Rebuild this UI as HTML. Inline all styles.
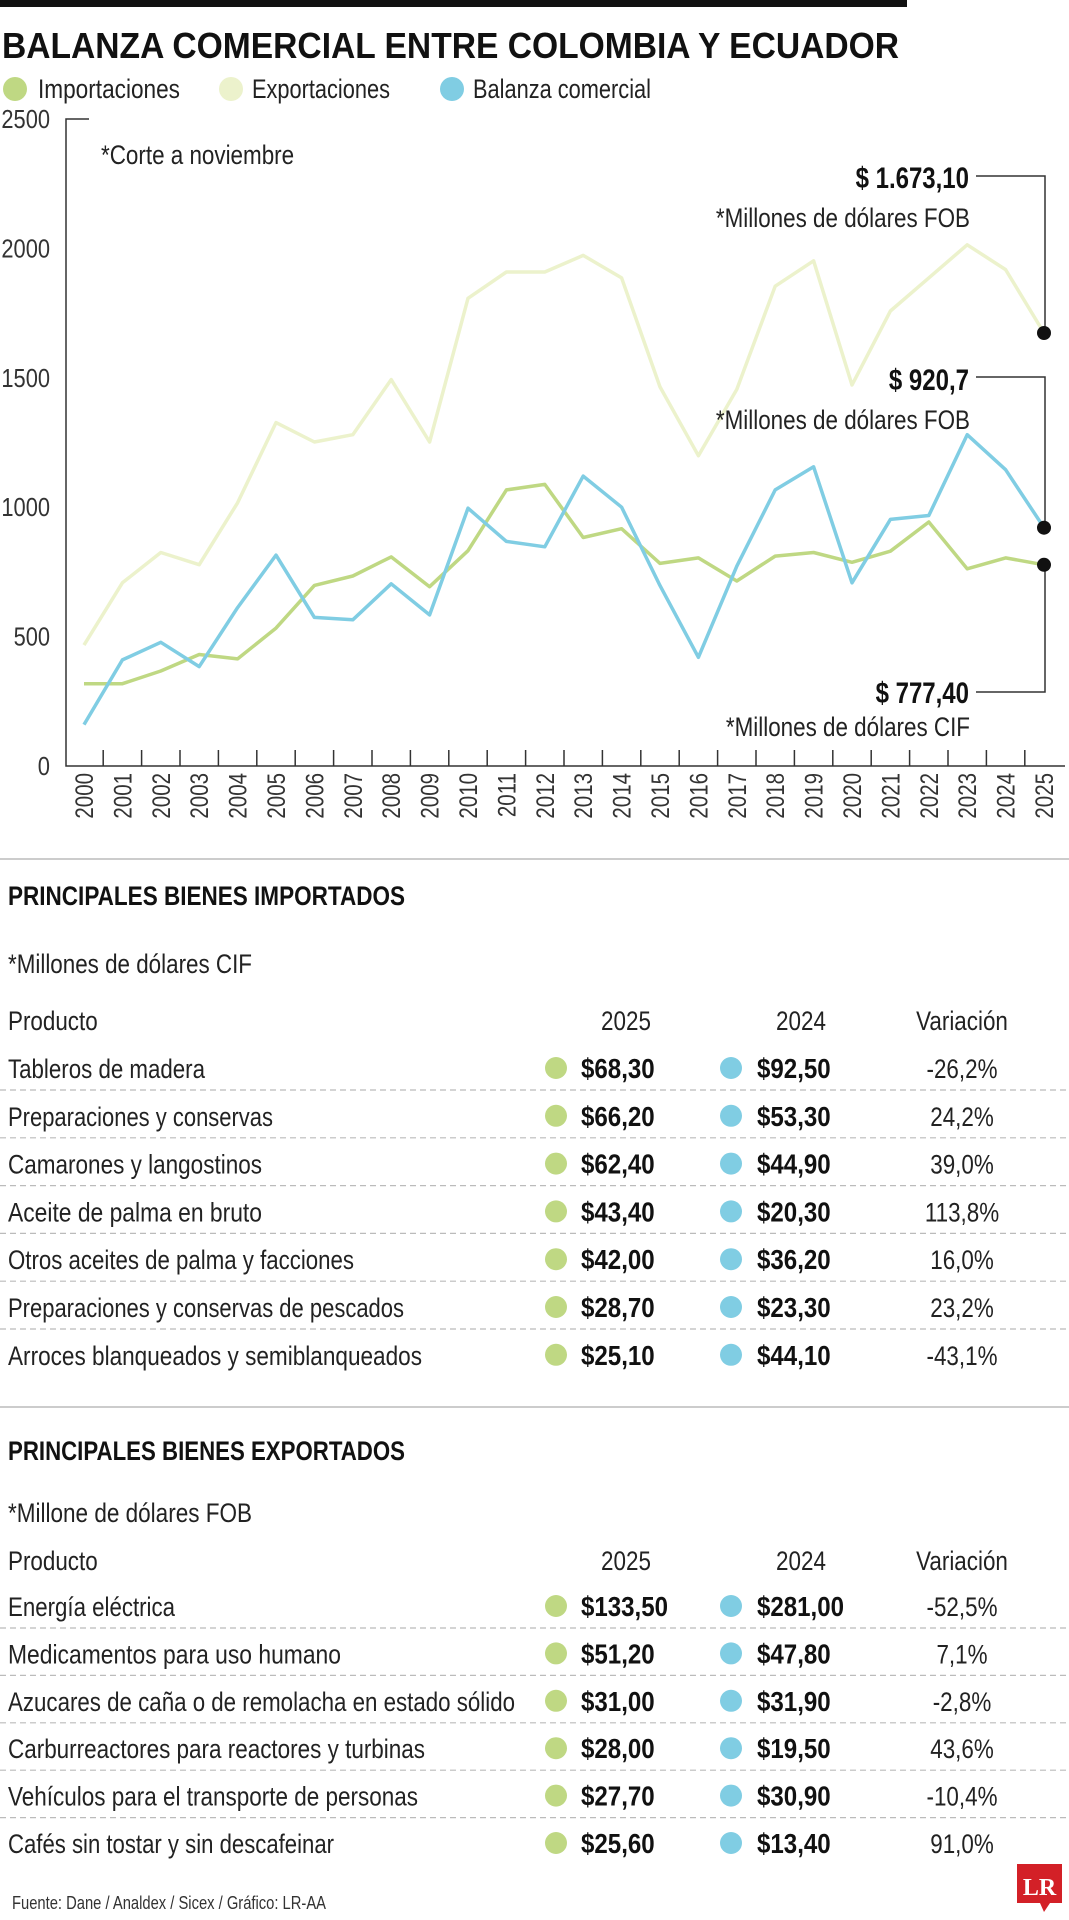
<!DOCTYPE html>
<html><head><meta charset="utf-8"><style>
html,body{margin:0;padding:0;background:#fff;}
svg{display:block;font-family:"Liberation Sans Narrow","Liberation Sans",sans-serif;}
</style></head><body>
<svg id="root" width="1069" height="1920" viewBox="0 0 1069 1920" xmlns="http://www.w3.org/2000/svg">
<rect x="0" y="0" width="907" height="7" fill="#111"/>
<text x="2" y="58" font-size="36" font-weight="bold" fill="#111" textLength="897" lengthAdjust="spacingAndGlyphs">BALANZA COMERCIAL ENTRE COLOMBIA Y ECUADOR</text>
<g>
<g><circle cx="15" cy="89" r="12" fill="#bfd883"/><text x="38" y="98" font-size="27" fill="#222" textLength="142" lengthAdjust="spacingAndGlyphs">Importaciones</text></g>
<g><circle cx="231" cy="89" r="12" fill="#ecf2cc"/><text x="252" y="98" font-size="27" fill="#222" textLength="138" lengthAdjust="spacingAndGlyphs">Exportaciones</text></g>
<g><circle cx="452" cy="89" r="12" fill="#80cde3"/><text x="473" y="98" font-size="27" fill="#222" textLength="178" lengthAdjust="spacingAndGlyphs">Balanza comercial</text></g>
</g>
<g id="chart"></g>
<line x1="0" y1="859" x2="1069" y2="859" stroke="#ccc" stroke-width="2"/>
<g id="tables"></g>
<text x="12" y="1909" font-size="18" fill="#333" textLength="314" lengthAdjust="spacingAndGlyphs">Fuente: Dane / Analdex / Sicex / Gráfico: LR-AA</text>
<g><path d="M1017 1864 H1062 V1903 H1050 L1044 1912 L1040 1903 H1017 Z" fill="#d32027"/><text x="1039.5" y="1895" font-size="24" font-weight="bold" fill="#fff" text-anchor="middle" font-family="Liberation Serif, serif">LR</text></g>
</svg>
<script>
const years=[2000,2001,2002,2003,2004,2005,2006,2007,2008,2009,2010,2011,2012,2013,2014,2015,2016,2017,2018,2019,2020,2021,2022,2023,2024,2025];
const exportaciones=[467,708,825,778,1017,1327,1252,1280,1493,1252,1807,1909,1909,1973,1886,1465,1199,1455,1854,1952,1472,1758,1886,2014,1918,1673.1];
const importaciones=[318,318,367,431,414,533,698,734,808,693,832,1067,1088,883,917,783,804,715,811,825,787,830,943,762,804,777.4];
const balanza=[160,410,478,384,612,815,574,565,704,584,996,868,847,1120,1000,697,420,772,1067,1156,708,953,968,1280,1145,920.7];
const yTicks=[0,500,1000,1500,2000,2500];
const NS="http://www.w3.org/2000/svg";
function mk(tag,attrs,parent,txt){const e=document.createElementNS(NS,tag);for(const k in attrs)e.setAttribute(k,attrs[k]);if(txt!==undefined)e.textContent=txt;parent.appendChild(e);return e;}
function cond(e,f){const l=e.getComputedTextLength();if(l>0){e.setAttribute('textLength',(l*f).toFixed(1));e.setAttribute('lengthAdjust','spacingAndGlyphs');}return e;}
const x=i=>84+i*38.4;
const y=v=>766-v*0.2588;
const chart=document.getElementById('chart');
let el;
el=mk('path',{d:'M89 119 H66 V766 H1065',fill:'none',stroke:'#333','stroke-width':1.5},chart);


yTicks.forEach(t=>{
  el=mk('text',{x:50,y:y(t)+9,'font-size':26,fill:'#333','text-anchor':'end'},chart,String(t));
  
  
  cond(el,0.84);
});
years.forEach((yr,i)=>{
  if(i<years.length-1){el=mk('line',{x1:x(i)+19.2,x2:x(i)+19.2,y1:750,y2:766,stroke:'#333','stroke-width':1.5},chart);
  
  }
  el=mk('text',{x:0,y:0,'font-size':25,fill:'#333','text-anchor':'end',transform:`translate(${x(i)+9},773) rotate(-90)`},chart,String(yr));
  
  
  cond(el,0.82);
});
el=mk('text',{x:101,y:164,'font-size':27,fill:'#222'},chart,'*Corte a noviembre');


cond(el,0.83);
function line(data,color,name){
  const d=data.map((v,i)=>(i?'L':'M')+x(i).toFixed(1)+' '+y(v).toFixed(1)).join(' ');
  const p=mk('path',{d:d,fill:'none',stroke:color,'stroke-width':3.5,'stroke-linejoin':'round'},chart);
  
  
}
line(exportaciones,'#ecf2cc','line-exportaciones');
line(importaciones,'#bfd883','line-importaciones');
line(balanza,'#80cde3','line-balanza');
const last=years.length-1;
function annot(val,lineY,labBase,subBase,label,sub,name){
  const py=y(val);
  el=mk('path',{d:`M976 ${lineY} H1045 V${py}`,fill:'none',stroke:'#333','stroke-width':1.5},chart);
  
  
  el=mk('circle',{cx:x(last),cy:py,r:7,fill:'#111'},chart);
  
  
  el=mk('text',{x:969,y:labBase,'font-size':30,'font-weight':'bold',fill:'#111','text-anchor':'end'},chart,label);
  
  
  cond(el,0.8);
  el=mk('text',{x:970,y:subBase,'font-size':27,fill:'#222','text-anchor':'end'},chart,sub);
  
  
  cond(el,0.83);
}
annot(exportaciones[last],176,188,227,'$ 1.673,10','*Millones de dólares FOB','exportaciones');
annot(balanza[last],377,390,429,'$ 920,7','*Millones de dólares FOB','balanza');
annot(importaciones[last],692,703,736,'$ 777,40','*Millones de dólares CIF','importaciones');

const tables=document.getElementById('tables');
const impNames=['Tableros de madera','Preparaciones y conservas','Camarones y langostinos','Aceite de palma en bruto','Otros aceites de palma y facciones','Preparaciones y conservas de pescados','Arroces blanqueados y semiblanqueados'];
const impW=[197,265,254,254,346,396,414];
const imp25=['$68,30','$66,20','$62,40','$43,40','$42,00','$28,70','$25,10'];
const imp24=['$92,50','$53,30','$44,90','$20,30','$36,20','$23,30','$44,10'];
const impVar=['-26,2%','24,2%','39,0%','113,8%','16,0%','23,2%','-43,1%'];
const expNames=['Energía eléctrica','Medicamentos para uso humano','Azucares de caña o de remolacha en estado sólido','Carburreactores para reactores y turbinas','Vehículos para el transporte de personas','Cafés sin tostar y sin descafeinar'];
const expW=[167,333,507,417,410,326];
const exp25=['$133,50','$51,20','$31,00','$28,00','$27,70','$25,60'];
const exp24=['$281,00','$47,80','$31,90','$19,50','$30,90','$13,40'];
const expVar=['-52,5%','7,1%','-2,8%','43,6%','-10,4%','91,0%'];
function table(top,unitY,hy,row0,step,title,tw,unit,uw,names,widths,v25,v24,vv,key){
  el=mk('text',{x:8,y:top,'font-size':27,'font-weight':'bold',fill:'#111',textLength:tw,lengthAdjust:'spacingAndGlyphs'},tables,title);
  
  
  el=mk('text',{x:8,y:unitY,'font-size':27,fill:'#222',textLength:uw,lengthAdjust:'spacingAndGlyphs'},tables,unit);
  
  
  [['Producto',8,'start'],['2025',626,'middle'],['2024',801,'middle'],['Variación',962,'middle']].forEach(h=>{
    el=mk('text',{x:h[1],y:hy,'font-size':27,fill:'#222','text-anchor':h[2]},tables,h[0]);
    
    
    cond(el,0.83);
  });
  names.forEach((n,i)=>{
    const by=row0+i*step;
    const g=mk('g',{},tables);
    
    
    mk('text',{x:8,y:by,'font-size':27,fill:'#222',textLength:widths[i],lengthAdjust:'spacingAndGlyphs'},g,n);
    mk('circle',{cx:556,cy:by-10,r:11,fill:'#bfd883'},g);
    cond(mk('text',{x:581,y:by,'font-size':28,'font-weight':'bold',fill:'#111'},g,v25[i]),0.86);
    mk('circle',{cx:731,cy:by-10,r:11,fill:'#80cde3'},g);
    cond(mk('text',{x:757,y:by,'font-size':28,'font-weight':'bold',fill:'#111'},g,v24[i]),0.86);
    cond(mk('text',{x:962,y:by,'font-size':27,fill:'#222','text-anchor':'middle'},g,vv[i]),0.83);
    if(i<names.length-1){
      el=mk('line',{x1:0,x2:1069,y1:by+12,y2:by+12,stroke:'#bbb','stroke-width':1.2,'stroke-dasharray':'6 4'},tables);
      
      
    }
  });
}
table(905,973,1030,1078,47.8,'PRINCIPALES BIENES IMPORTADOS',397,'*Millones de dólares CIF',244,impNames,impW,imp25,imp24,impVar,'imports-table');
el=mk('line',{x1:0,x2:1069,y1:1407,y2:1407,stroke:'#ccc','stroke-width':2},tables);


table(1460,1522,1570,1616,47.4,'PRINCIPALES BIENES EXPORTADOS',397,'*Millone de dólares FOB',244,expNames,expW,exp25,exp24,expVar,'exports-table');
</script>
</body></html>
